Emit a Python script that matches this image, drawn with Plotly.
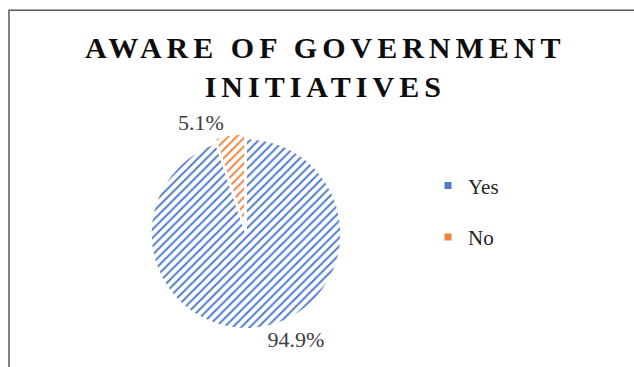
import plotly.graph_objects as go

categories = ["Yes", "No"]
values = [94.9, 5.1]
light_colors = ["#CDD8EF", "#F9D2B8"]
dark_colors = ["#4F7BC8", "#EE8540"]
title_lines = ["AWARE OF GOVERNMENT", "INITIATIVES"]

W, H = 634, 367
cx, cy, R, pull = 246, 250, 102, 0.05
half = R * (1 + pull)
serif = "Liberation Serif"

fig = go.Figure()
fig.add_trace(go.Pie(
    labels=categories, values=values, sort=False, direction="clockwise", rotation=0,
    pull=[0, pull],
    marker=dict(colors=light_colors, line=dict(color="white", width=2),
                pattern=dict(shape="/", fgcolor=dark_colors, size=6, solidity=0.32)),
    texttemplate="%{percent:.1%}", textposition="outside",
    textfont=dict(family=serif, size=22, color="#404040"),
    outsidetextfont=dict(family=serif, size=22, color="#404040"),
    domain=dict(x=[(cx - half) / W, (cx + half) / W], y=[(H - cy - half) / H, (H - cy + half) / H]),
    showlegend=False, hoverinfo="label+percent",
))
for i, c in enumerate(categories):
    fig.add_trace(go.Scatter(x=[None], y=[None], mode="markers", name=c, legendgroup=c,
                             marker=dict(symbol="square", size=7, color=dark_colors[i])))

sp = '<span style="letter-spacing:5px">'
fig.update_layout(
    width=W, height=H, margin=dict(l=0, r=0, t=0, b=0),
    paper_bgcolor="white", plot_bgcolor="white",
    font=dict(family=serif),
    xaxis=dict(visible=False), yaxis=dict(visible=False),
    title=dict(text="<b>" + sp + title_lines[0] + "</span><br>" + sp + title_lines[1] + "</span></b>",
               x=0.513, xanchor="center", y=0.842, yanchor="middle", yref="container",
               font=dict(family=serif, size=30, color="#0d0d0d")),
    legend=dict(x=428 / W, y=1 - 177 / H, xanchor="left", yanchor="top",
                font=dict(family=serif, size=21, color="#262626"),
                tracegroupgap=21, itemwidth=30, bgcolor="rgba(0,0,0,0)"),
    shapes=[dict(type="rect", xref="paper", yref="paper", x0=9 / W, x1=1.05, y0=-0.08, y1=1 - 11 / H,
                 line=dict(color="#595959", width=1.5))],
)
fig.write_html("out.html")
